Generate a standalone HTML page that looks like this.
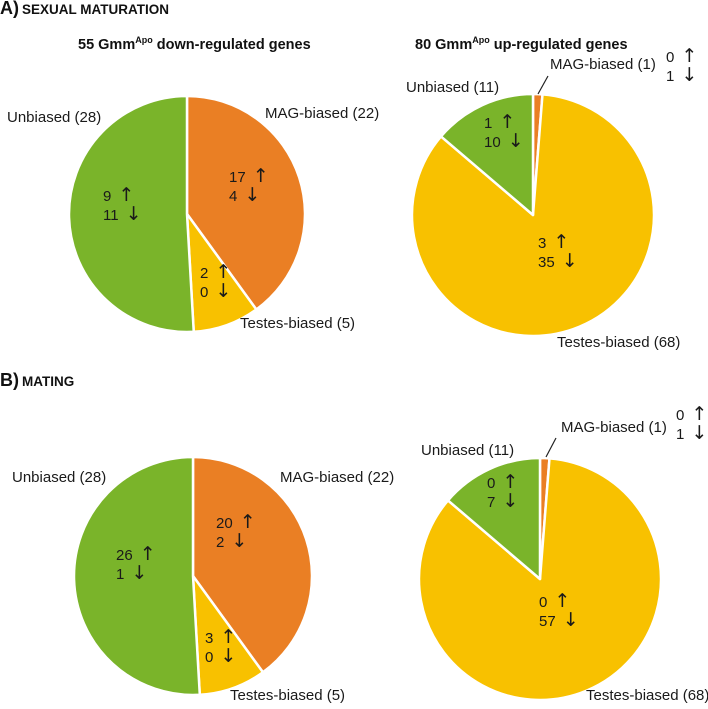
<!DOCTYPE html>
<html><head><meta charset="utf-8">
<style>
html,body{margin:0;padding:0;background:#fff;}
svg{display:block;font-family:"Liberation Sans",Arial,sans-serif;}
.lbl{font-size:15px;fill:#1a1a1a;}
.in{font-size:15px;fill:#1a1a1a;}
.arr{font-size:19px;font-family:"DejaVu Sans",sans-serif;}
.ttl{font-size:14.5px;font-weight:bold;fill:#111;}
.sec{font-weight:bold;fill:#111;}
</style></head>
<body>
<svg id="chart" width="708" height="709" viewBox="0 0 708 709">
  <text class="sec" x="0" y="14"><tspan font-size="18">A)</tspan><tspan font-size="13.5" dx="3">SEXUAL MATURATION</tspan></text>
  <text class="sec" x="0" y="386"><tspan font-size="18">B)</tspan><tspan font-size="13.5" dx="3">MATING</tspan></text>
  <text class="ttl" x="78" y="49">55 Gmm<tspan font-size="9" dy="-6">Apo</tspan><tspan dy="6"> down-regulated genes</tspan></text>
  <text class="ttl" x="415" y="49">80 Gmm<tspan font-size="9" dy="-6">Apo</tspan><tspan dy="6"> up-regulated genes</tspan></text>
  <g id="pies"></g>
</svg>
<script>
// Slice order: MAG-biased, Testes-biased, Unbiased (clockwise from top)
const categories = ["MAG-biased", "Testes-biased", "Unbiased"];
const countsDown = [22, 5, 28];
const countsUp = [1, 68, 11];
const upA1 = [17, 2, 9];   const downA1 = [4, 0, 11];
const upA2 = [0, 3, 1];    const downA2 = [1, 35, 10];
const upB1 = [20, 3, 26];  const downB1 = [2, 0, 1];
const upB2 = [0, 0, 0];    const downB2 = [1, 57, 7];
const colors = ["#EA7F24", "#F8C100", "#7AB42A"];

const NS = "http://www.w3.org/2000/svg";
const root = document.getElementById("pies");
function mk(tag, attrs, parent){ const e=document.createElementNS(NS,tag); for(const k in attrs) e.setAttribute(k,attrs[k]); (parent||root).appendChild(e); return e; }
function pt(cx,cy,r,a){ return [cx + r*Math.sin(a), cy - r*Math.cos(a)]; }

const pies = [
  {id:"a-down", cx:187, cy:214, r:118, counts:countsDown, up:upA1, dn:downA1,
   inner:[[229,182],[200,278],[103,201]], lab:[[265,118],[240,328],[7,122]], leader:false},
  {id:"a-up", cx:533, cy:215, r:121, counts:countsUp, up:upA2, dn:downA2,
   inner:[[666,62],[538,248],[484,128]], lab:[[550,69],[557,347],[406,92]], leader:[[538,94],[548,76]]},
  {id:"b-down", cx:193, cy:576, r:119, counts:countsDown, up:upB1, dn:downB1,
   inner:[[216,528],[205,643],[116,560]], lab:[[280,482],[230,700],[12,482]], leader:false},
  {id:"b-up", cx:540, cy:579, r:121, counts:countsUp, up:upB2, dn:downB2,
   inner:[[676,420],[539,607],[487,488]], lab:[[561,432],[586,700],[421,455]], leader:[[546,457],[556,438]]}
];

pies.forEach(p => {
  const g = mk("g", {});
  
  
  const total = p.counts.reduce((a,b)=>a+b,0);
  let a0 = 0;
  p.counts.forEach((v,i) => {
    const a1 = a0 + v/total*2*Math.PI;
    const [x0,y0] = pt(p.cx,p.cy,p.r,a0), [x1,y1] = pt(p.cx,p.cy,p.r,a1);
    const large = (a1-a0) > Math.PI ? 1 : 0;
    const path = mk("path", {d:`M${p.cx},${p.cy} L${x0},${y0} A${p.r},${p.r} 0 ${large} 1 ${x1},${y1} Z`,
      fill:colors[i], stroke:"#fff", "stroke-width":"2.5", "stroke-linejoin":"round"}, g);
    
    
    a0 = a1;
  });
  p.counts.forEach((v,i) => {
    const [lx,ly] = p.lab[i];
    const t = mk("text", {class:"lbl", x:lx, y:ly}, g);
    t.textContent = categories[i] + " (" + v + ")";
    
    
    const [ix,iy] = p.inner[i];
    const tu = mk("text", {class:"in", x:ix, y:iy}, g);
    
    
    tu.appendChild(document.createTextNode(p.up[i] + " "));
    const au = mk("tspan", {class:"arr", dx:"3"}, tu);
    au.textContent = "\u2191";
    const td = mk("text", {class:"in", x:ix, y:iy+19}, g);
    
    
    td.appendChild(document.createTextNode(p.dn[i] + " "));
    const ad = mk("tspan", {class:"arr", dx:"3"}, td);
    ad.textContent = "\u2193";
  });
  if (p.leader) {
    const l = mk("line", {x1:p.leader[0][0], y1:p.leader[0][1], x2:p.leader[1][0], y2:p.leader[1][1], stroke:"#222", "stroke-width":"1.2"}, g);
    
    
  }
});
</script>
</body></html>
